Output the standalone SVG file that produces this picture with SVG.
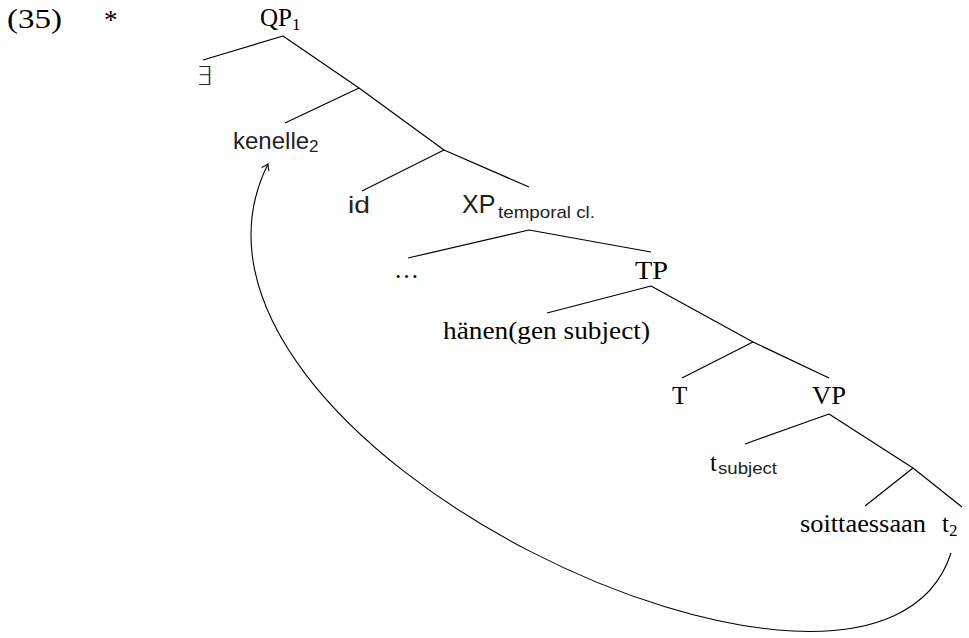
<svg xmlns="http://www.w3.org/2000/svg" width="969" height="638" viewBox="0 0 969 638">
<style>
.sr{font-family:"Liberation Serif","Times New Roman",serif;font-size:25px;fill:#000}
.ss{font-family:"Liberation Serif","Times New Roman",serif;font-size:17px;fill:#000}
.sa{font-family:"Liberation Sans",Arial,sans-serif;font-size:24px;fill:#222}
.sb{font-family:"Liberation Sans",Arial,sans-serif;font-size:17px;fill:#222}
.ex{font-family:"DejaVu Sans","Noto Sans",sans-serif;font-size:26px;font-weight:200;fill:#222}
.e{stroke:#000;stroke-width:1.2;fill:none}
.mv{stroke:#000;stroke-width:1.1;fill:none}
</style>
<defs>
<marker id="arr" markerUnits="userSpaceOnUse" markerWidth="14" markerHeight="14" viewBox="-8 -7 10 14" refX="0" refY="0" orient="auto">
<path d="M-6,-4 Q-2,-1 0,0 Q-2,1 -6,4" fill="none" stroke="#000" stroke-width="1.1"/>
</marker>
</defs>
<g id="label">
<text class="sr" x="7" y="28" style="font-size:28px" textLength="55" lengthAdjust="spacingAndGlyphs">(35)</text>
<text class="sr" x="104" y="29" style="font-size:27px">*</text>
</g>
<g id="edges">
<path class="e" d="M283,36 L203,60 M283,36 L359,88"/>
<path class="e" d="M359,88 L285,123 M359,88 L444,150"/>
<path class="e" d="M444,150 L362,191 M444,150 L529,187"/>
<path class="e" d="M529,230 L408,258 M529,230 L651,252"/>
<path class="e" d="M651,286 L547,313 M651,286 L753,342"/>
<path class="e" d="M753,342 L682,378 M753,342 L829,378"/>
<path class="e" d="M829,414 L745,444 M829,414 L913,468"/>
<path class="e" d="M913,468 L865,506 M913,468 L962,507"/>
<path class="mv" d="M951,553 C875,790 130,440 268,164" marker-end="url(#arr)"/>
</g>
<g id="n-qp1"><text class="sr" x="260" y="26">QP<tspan class="ss" dy="4">1</tspan></text></g>
<g id="n-exists"><text class="ex" x="196" y="85">∃</text></g>
<g id="n-kenelle"><text class="sa" x="233" y="149">kenelle<tspan class="sb" dy="3">2</tspan></text></g>
<g id="n-id"><text class="sa" x="348" y="213" textLength="22" lengthAdjust="spacingAndGlyphs">id</text></g>
<g id="n-xp"><text class="sa" x="462" y="213" style="font-size:25px">XP</text><text class="sb" x="498" y="218" textLength="97" lengthAdjust="spacingAndGlyphs">temporal cl.</text></g>
<g id="n-dots"><text class="sr" x="394" y="278" textLength="25" lengthAdjust="spacingAndGlyphs">…</text></g>
<g id="n-tp"><text class="sr" x="635" y="279" textLength="33" lengthAdjust="spacingAndGlyphs">TP</text></g>
<g id="n-hanen"><text class="sr" x="443" y="339" textLength="207" lengthAdjust="spacingAndGlyphs">hänen(gen subject)</text></g>
<g id="n-t"><text class="sr" x="672" y="404">T</text></g>
<g id="n-vp"><text class="sr" x="812" y="404" textLength="34" lengthAdjust="spacingAndGlyphs">VP</text></g>
<g id="n-tsubj"><text class="sr" x="710" y="471">t</text><text class="sb" x="718" y="474" textLength="59" lengthAdjust="spacingAndGlyphs">subject</text></g>
<g id="n-soitt"><text class="sr" x="800" y="532" textLength="126" lengthAdjust="spacingAndGlyphs">soittaessaan</text></g>
<g id="n-t2"><text class="sr" x="942" y="532">t<tspan class="ss" dy="4">2</tspan></text></g>
</svg>
